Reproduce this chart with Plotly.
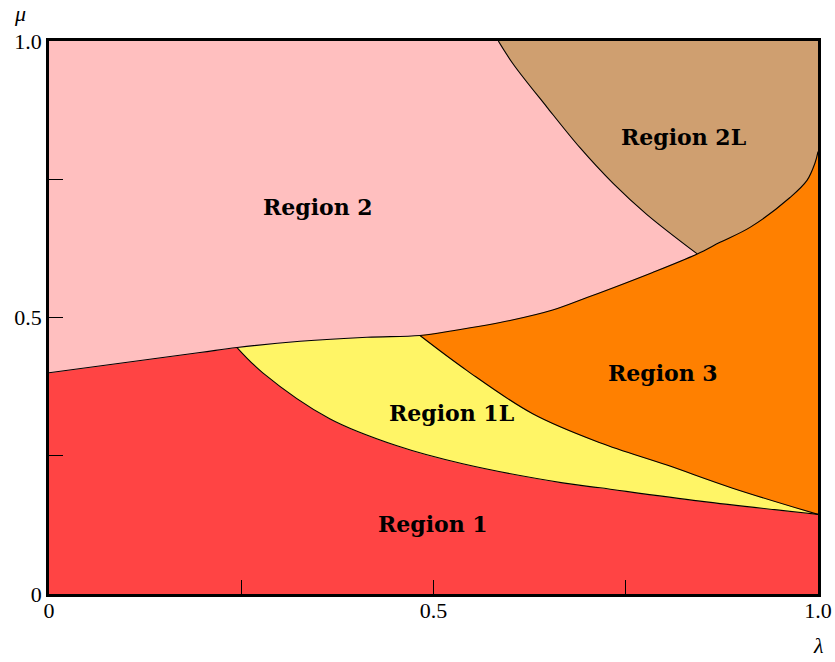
import plotly.graph_objects as go

# Boundary curves (lambda, mu)
curveA_lam = [0, 0.1964, 0.2445, 0.3264, 0.4135, 0.4824, 0.525, 0.5995, 0.655, 0.6996, 0.785, 0.843, 0.8726, 0.9116, 0.9636, 0.9857, 0.996, 1.0]
curveA_mu = [0.400, 0.4366, 0.4457, 0.457, 0.4643, 0.4674, 0.476, 0.4946, 0.5135, 0.536, 0.5815, 0.615, 0.636, 0.663, 0.717, 0.748, 0.779, 0.80]

curveB_lam = [0.2445, 0.278, 0.365, 0.4525, 0.538, 0.668, 0.7165, 0.8466, 1.0]
curveB_mu = [0.4457, 0.400, 0.317, 0.268, 0.2355, 0.201, 0.192, 0.168, 0.144]

curveC_lam = [0.4824, 0.5436, 0.629, 0.7165, 0.8036, 0.889, 1.0]
curveC_mu = [0.4674, 0.404, 0.326, 0.2736, 0.2331, 0.1914, 0.144]

curveD_lam = [0.5843, 0.6038, 0.6472, 0.6905, 0.7339, 0.7772, 0.843]
curveD_mu = [1.0, 0.958, 0.881, 0.807, 0.742, 0.6866, 0.615]

region_names = ["Region 1", "Region 1L", "Region 2", "Region 2L", "Region 3"]
region_label_lam = [0.4993, 0.524, 0.35, 0.8245, 0.798]
region_label_mu = [0.127, 0.328, 0.699, 0.826, 0.400]
region_colors = ["#FF4444", "#FFF566", "#FFBFBF", "#CF9F70", "#FF8000"]

tick_vals = [0, 0.25, 0.5, 0.75, 1.0]
tick_text = ["0", "", "0.5", "", "1.0"]

iB = 2   # index in curve A where curve B starts
iC = 5   # index in curve A where curve C starts
iD = 11  # index in curve A where curve D ends

A = list(zip(curveA_lam, curveA_mu))
B = list(zip(curveB_lam, curveB_mu))
C = list(zip(curveC_lam, curveC_mu))
D = list(zip(curveD_lam, curveD_mu))


def join(*pieces):
    # consecutive pieces share end points; keeping both copies keeps the corner sharp
    pts = [p for piece in pieces for p in piece]
    return [p[0] for p in pts], [p[1] for p in pts]


polys = [
    join(A[:iB + 1], B, [B[-1], (1, 0)], [(1, 0), (0, 0)]),                      # Region 1
    join(B, C[::-1], A[iB + 1:iC + 1][::-1]),                                    # Region 1L
    join([(0, 1), A[0]], A[:iD + 1], D[::-1]),                                   # Region 2
    join(D, A[iD:], [A[-1], (1, 1)]),                                            # Region 2L
    join(A[iC:][::-1], C),                                                       # Region 3
]

fig = go.Figure()
for (px, py), col in zip(polys, region_colors):
    fig.add_trace(go.Scatter(x=px, y=py, fill="toself", fillcolor=col, mode="lines",
                             line=dict(color=col, width=0.6, shape="spline", simplify=False),
                             hoverinfo="skip", showlegend=False))

for cx, cy in [(curveA_lam, curveA_mu), (curveB_lam, curveB_mu), (curveC_lam, curveC_mu), (curveD_lam, curveD_mu)]:
    fig.add_trace(go.Scatter(x=cx, y=cy, mode="lines",
                             line=dict(color="black", width=1.1, shape="spline", simplify=False),
                             hoverinfo="skip", showlegend=False))

for name, lx, ly in zip(region_names, region_label_lam, region_label_mu):
    fig.add_annotation(x=lx, y=ly, text="<b>" + name + "</b>", showarrow=False,
                       font=dict(family="DejaVu Serif", size=22, color="black"))

fig.add_annotation(x=-0.0377, y=1.0506, xref="paper", yref="paper", text="<i>μ</i>", showarrow=False,
                   xanchor="center", yanchor="middle",
                   font=dict(family="Liberation Serif", size=22, color="black"))
fig.add_annotation(x=1.0, y=-0.094, xref="paper", yref="paper", text="<i>λ</i>", showarrow=False,
                   xanchor="center", yanchor="middle",
                   font=dict(family="Liberation Serif", size=22, color="black"))

axis_common = dict(range=[0, 1], tickvals=tick_vals, ticktext=tick_text, ticks="inside",
                   ticklen=14, tickwidth=1, tickcolor="black", showgrid=False, zeroline=False,
                   showline=True, linecolor="black", linewidth=2.5, mirror=True,
                   tickfont=dict(family="Liberation Serif", size=22, color="black"))

fig.update_layout(
    width=835, height=662,
    margin=dict(l=49, r=17, t=41, b=68, autoexpand=False),
    plot_bgcolor="white", paper_bgcolor="white",
    xaxis=dict(**axis_common, ticklabelstandoff=-5),
    yaxis=dict(**axis_common),
)

fig.write_html("out.html", config={"displayModeBar": False},
               post_script="document.body.style.margin='0';document.body.style.overflow='hidden';")
